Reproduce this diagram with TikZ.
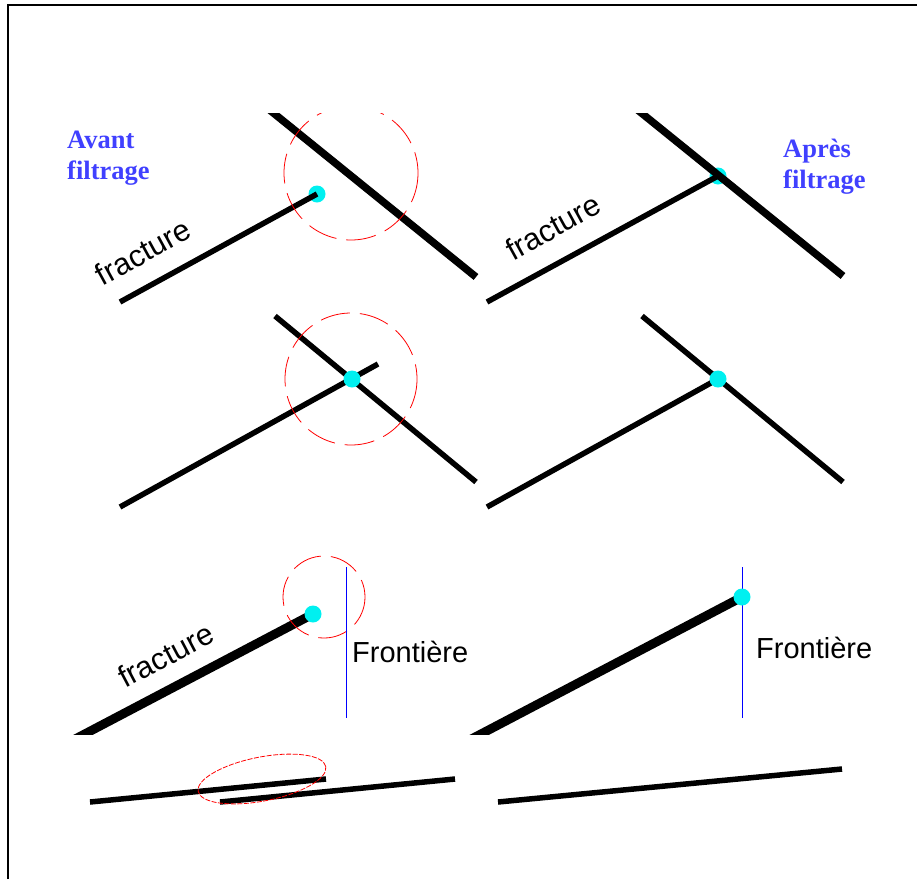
\documentclass[tikz,border=0pt]{standalone}
\usepackage{fontspec}
\setmainfont{Liberation Sans}
\newfontfamily\titlefont{Liberation Serif}
\definecolor{lblblue}{RGB}{64,64,255}
\definecolor{dotcyan}{RGB}{0,240,240}
\begin{document}
\begin{tikzpicture}[x=1pt,y=-1pt,
  frac/.style={line width=5.5pt},
  thickfrac/.style={line width=7.5pt},
  fatfrac/.style={line width=9pt},
  zone/.style={red,line width=0.8pt,dash pattern=on 30pt off 10pt},
  finezone/.style={red,line width=0.8pt,dash pattern=on 5pt off 1.5pt},
  border/.style={blue,line width=0.9pt},
  tip/.style={fill=dotcyan},
  arial/.style={font=\fontsize{29}{34}\selectfont,inner sep=0pt},
  fractxt/.style={font=\fontsize{30.5}{34}\selectfont,inner sep=0pt},
  ttl/.style={font=\titlefont\bfseries\fontsize{26.5}{31}\selectfont,text=lblblue,inner sep=0pt,anchor=base west}]
\useasboundingbox (0,0) rectangle (917,879);
% frame
\draw[line width=2pt] (8,879) -- (8,5) -- (917,5);

% ---------- Row 1 left ----------
\coordinate (f1a) at (120,302);
\coordinate (f1b) at (317,194);
\coordinate (c1a) at (266,107);
\coordinate (c1b) at (476,277);
\fill[tip] (f1b) circle (8.5);
\begin{scope}
  \clip (0,113) rectangle (917,330);
  \draw[frac] (f1a) -- (f1b);
  \draw[thickfrac] (c1a) -- (c1b);
  \draw[zone] (351,173) circle (67);
\end{scope}
\node[fractxt,rotate=28.7] (t1) at (143,252) {fracture};
\node[ttl] (av1) at (67,148) {Avant};
\node[ttl] (av2) at (67,179) {filtrage};

% ---------- Row 1 right ----------
\coordinate (f2a) at (487,302);
\coordinate (f2b) at (718,176);
\coordinate (c2a) at (634,107);
\coordinate (c2b) at (843,276);
\fill[tip] (f2b) circle (8.5);
\begin{scope}
  \clip (0,113) rectangle (917,330);
  \draw[frac] (f2a) -- (f2b);
  \draw[thickfrac] (c2a) -- (c2b);
\end{scope}
\node[fractxt,rotate=28.9] (t2) at (553,227) {fracture};
\node[ttl] (ap1) at (783,157) {Après};
\node[ttl] (ap2) at (783,188) {filtrage};

% ---------- Row 2 left ----------
\coordinate (f3a) at (120,507);
\coordinate (f3b) at (378,364);
\coordinate (c3a) at (275,316);
\coordinate (c3b) at (476,482);
\coordinate (x3) at (352,379);
\draw[frac] (f3a) -- (f3b);
\draw[frac] (c3a) -- (c3b);
\fill[tip] (x3) circle (8.5);
\draw[zone] (351,379) circle (66);

% ---------- Row 2 right ----------
\coordinate (f4a) at (487,507);
\coordinate (f4b) at (718,379);
\coordinate (c4a) at (642,316);
\coordinate (c4b) at (843,482);
\draw[frac] (f4a) -- (f4b);
\draw[frac] (c4a) -- (c4b);
\fill[tip] (f4b) circle (8.5);

% ---------- Row 3 left ----------
\coordinate (f5a) at (60,747);
\coordinate (f5b) at (313,614);
\begin{scope}
  \clip (0,540) rectangle (917,734);
  \draw[fatfrac] (f5a) -- (f5b);
\end{scope}
\fill[tip] (f5b) circle (8.5);
\draw[zone] (324,597) circle (41);
\coordinate (b5a) at (346,567);
\coordinate (b5b) at (346,718);
\draw[border] (b5a) -- (b5b);
\node[arial,anchor=base west] (fr5) at (352,662) {Frontière};
\node[fractxt,rotate=27.8] (t5) at (166,655) {fracture};

% ---------- Row 3 right ----------
\coordinate (f6a) at (460,745);
\coordinate (f6b) at (742,597);
\begin{scope}
  \clip (0,540) rectangle (917,734);
  \draw[fatfrac] (f6a) -- (f6b);
\end{scope}
\coordinate (b6a) at (742,567);
\coordinate (b6b) at (742,718);
\draw[border] (b6a) -- (b6b);
\fill[tip] (f6b) circle (8.5);
\node[arial,anchor=base west] (fr6) at (756,658) {Frontière};

% ---------- Row 4 left ----------
\coordinate (g7a) at (90,802);
\coordinate (g7b) at (326,779);
\coordinate (h7a) at (220,802);
\coordinate (h7b) at (455,779);
\draw[frac] (g7a) -- (g7b);
\draw[frac] (h7a) -- (h7b);
\draw[finezone,rotate around={11:(262,779)}] (262,779) ellipse [x radius=65pt, y radius=22pt];

% ---------- Row 4 right ----------
\coordinate (g8a) at (498,802);
\coordinate (g8b) at (842,769);
\draw[frac] (g8a) -- (g8b);
\end{tikzpicture}
\end{document}
